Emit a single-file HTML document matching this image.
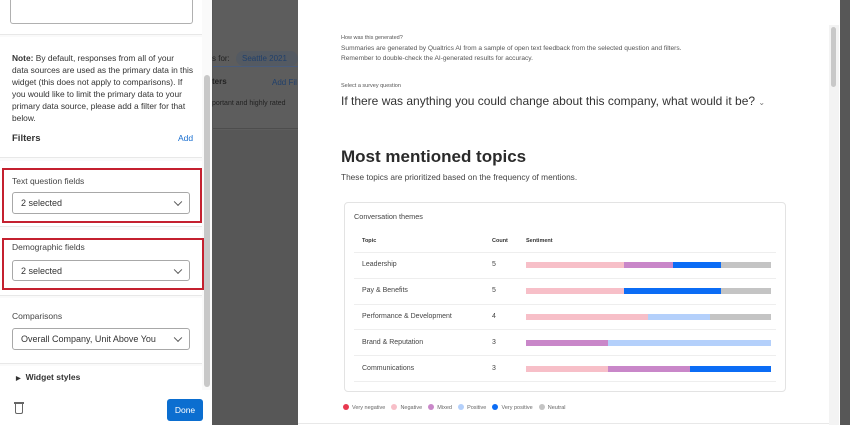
<!DOCTYPE html>
<html><head><meta charset="utf-8"><style>
*{margin:0;padding:0;box-sizing:border-box}
body{width:850px;height:425px;overflow:hidden;position:relative;background:#575757;font-family:"Liberation Sans",sans-serif;color:#333}
.a{position:absolute;white-space:nowrap}
.sel{position:absolute;background:#fff;border:1px solid #a8a8a8;border-radius:3px;font-size:9px;color:#333;padding-left:8px;display:flex;align-items:center}
.sel:after{content:"";position:absolute;right:8px;top:50%;width:5px;height:5px;border-right:1px solid #555;border-bottom:1px solid #555;transform:translateY(-70%) rotate(45deg)}
.red{position:absolute;border:2px solid #c4202f}
.bar{position:absolute;height:6px}
.dot{display:inline-block;width:6px;height:6px;border-radius:50%;margin-right:3px;vertical-align:-1px}
</style></head><body>
<div class="a" style="left:213px;top:0;width:85px;height:130px;background:#5d5d5d"></div>
<div class="a" style="left:213px;top:66px;width:85px;height:1px;background:#4a5c7a"></div>
<div class="a" style="left:213px;top:128px;width:85px;height:1px;background:#4d4d4d"></div>
<div class="a" style="left:212px;top:54px;font-size:8px;color:#222">s for:</div>
<div class="a" style="left:236px;top:51px;width:62px;height:15px;background:#545a62;border-radius:8px"></div>
<div class="a" style="left:242px;top:54px;font-size:8px;color:#21406b">Seattle 2021</div>
<div class="a" style="left:212px;top:77px;font-size:8px;font-weight:bold;color:#222">ters</div>
<div class="a" style="left:272px;top:78px;font-size:8px;color:#21406b">Add Fil</div>
<div class="a" style="left:212px;top:100px;font-size:7px;color:#222">portant and highly rated</div>
<div class="a" style="left:0;top:0;width:212px;height:425px;background:#fafafa"></div>
<div class="a" style="left:0;top:0;width:202px;height:35px;background:#fff;border-bottom:1px solid #e8e8e8"></div>
<div class="a" style="left:10px;top:0;width:183px;height:24px;border:1px solid #b0b0b0;border-top:none;border-radius:0 0 3px 3px;background:#fff"></div>
<div class="a" style="left:0;top:37px;width:202px;height:121px;background:#fff;border-bottom:1px solid #e8e8e8"></div>
<div class="a" style="left:12px;top:52px;font-size:8.4px;line-height:12px;color:#333"><b>Note:</b> By default, responses from all of your<br>data sources are used as the primary data in this<br>widget (this does not apply to comparisons). If<br>you would like to limit the primary data to your<br>primary data source, please add a filter for that<br>below.</div>
<div class="a" style="left:12px;top:133px;font-size:9.5px;font-weight:bold;color:#333">Filters</div>
<div class="a" style="left:178px;top:133px;font-size:8.5px;color:#1a6fd0">Add</div>
<div class="a" style="left:0;top:161px;width:202px;height:66px;background:#fff;border-bottom:1px solid #e8e8e8"></div>
<div class="red" style="left:2px;top:168px;width:200px;height:55px"></div>
<div class="a" style="left:12px;top:176px;font-size:8.5px;color:#444">Text question fields</div>
<div class="sel" style="left:12px;top:192px;width:178px;height:22px">2 selected</div>
<div class="a" style="left:0;top:230px;width:202px;height:66px;background:#fff;border-bottom:1px solid #e8e8e8"></div>
<div class="red" style="left:2px;top:238px;width:202px;height:52px"></div>
<div class="a" style="left:12px;top:242px;font-size:8.5px;color:#444">Demographic fields</div>
<div class="sel" style="left:12px;top:260px;width:178px;height:21px">2 selected</div>
<div class="a" style="left:0;top:298px;width:202px;height:66px;background:#fff;border-bottom:1px solid #e8e8e8"></div>
<div class="a" style="left:12px;top:311px;font-size:8.5px;color:#444">Comparisons</div>
<div class="sel" style="left:12px;top:328px;width:178px;height:22px">Overall Company, Unit Above You</div>
<div class="a" style="left:0;top:366px;width:202px;height:24px;background:#fff"></div>
<div class="a" style="left:16px;top:372px;font-size:8.5px;font-weight:bold;color:#333"><span style="font-size:6px;margin-right:5px">▶</span>Widget styles</div>
<div class="a" style="left:204px;top:75px;width:6px;height:312px;background:#c8c8c8;border-radius:3px"></div>
<div class="a" style="left:0;top:390px;width:212px;height:35px;background:#fff"></div>
<div class="a" style="left:15px;top:404px;width:8px;height:10px;border:1.5px solid #666;border-top:none;border-radius:0 0 2px 2px"></div>
<div class="a" style="left:14px;top:402px;width:10px;height:1.5px;background:#666"></div>
<div class="a" style="left:167px;top:399px;width:36px;height:22px;background:#0b6ed0;border-radius:3px;color:#fff;font-size:8.5px;line-height:22px;text-align:center">Done</div>
<div class="a" style="left:298px;top:0;width:542px;height:425px;background:#fff"></div>
<div class="a" style="left:829px;top:25px;width:10px;height:400px;background:#f3f3f3"></div>
<div class="a" style="left:831px;top:27px;width:5px;height:60px;background:#c8c8c8;border-radius:3px"></div>
<div class="a" style="left:341px;top:35px;font-size:5.5px;color:#555">How was this generated?</div>
<div class="a" style="left:341px;top:44px;font-size:6.6px;color:#555;line-height:10px">Summaries are generated by Qualtrics AI from a sample of open text feedback from the selected question and filters.<br>Remember to double-check the AI-generated results for accuracy.</div>
<div class="a" style="left:341px;top:83px;font-size:5.5px;color:#555">Select a survey question</div>
<div class="a" style="left:341px;top:94px;font-size:12px;color:#333">If there was anything you could change about this company, what would it be? <span style="font-size:8px;color:#777">⌄</span></div>
<div class="a" style="left:341px;top:147px;font-size:17px;font-weight:bold;color:#2a2a2a">Most mentioned topics</div>
<div class="a" style="left:341px;top:172px;font-size:8.3px;color:#444">These topics are prioritized based on the frequency of mentions.</div>
<div class="a" style="left:344px;top:202px;width:442px;height:190px;border:1px solid #e3e3e3;border-radius:4px"></div>
<div class="a" style="left:354px;top:212px;font-size:7.3px;color:#444">Conversation themes</div>
<div class="a" style="left:362px;top:238px;font-size:5.5px;font-weight:bold;color:#333">Topic</div>
<div class="a" style="left:492px;top:238px;font-size:5.5px;font-weight:bold;color:#333">Count</div>
<div class="a" style="left:526px;top:238px;font-size:5.5px;font-weight:bold;color:#333">Sentiment</div>
<div class="a" style="left:354px;top:252px;width:422px;height:1px;background:#eee"></div>
<div class="a" style="left:354px;top:278px;width:422px;height:1px;background:#eee"></div>
<div class="a" style="left:354px;top:304px;width:422px;height:1px;background:#eee"></div>
<div class="a" style="left:354px;top:329px;width:422px;height:1px;background:#eee"></div>
<div class="a" style="left:354px;top:355px;width:422px;height:1px;background:#eee"></div>
<div class="a" style="left:354px;top:381px;width:422px;height:1px;background:#eee"></div>
<div class="a" style="left:362px;top:261px;font-size:7px;color:#444">Leadership</div>
<div class="a" style="left:362px;top:287px;font-size:7px;color:#444">Pay &amp; Benefits</div>
<div class="a" style="left:362px;top:313px;font-size:7px;color:#444">Performance &amp; Development</div>
<div class="a" style="left:362px;top:339px;font-size:7px;color:#444">Brand &amp; Reputation</div>
<div class="a" style="left:362px;top:365px;font-size:7px;color:#444">Communications</div>
<div class="a" style="left:492px;top:261px;font-size:7px;color:#444">5</div>
<div class="a" style="left:492px;top:287px;font-size:7px;color:#444">5</div>
<div class="a" style="left:492px;top:313px;font-size:7px;color:#444">4</div>
<div class="a" style="left:492px;top:339px;font-size:7px;color:#444">3</div>
<div class="a" style="left:492px;top:365px;font-size:7px;color:#444">3</div>
<div class="bar" style="left:526px;top:262px;width:98px;background:#f7bfc8"></div>
<div class="bar" style="left:624px;top:262px;width:49px;background:#c987c9"></div>
<div class="bar" style="left:673px;top:262px;width:48px;background:#0b6cf5"></div>
<div class="bar" style="left:721px;top:262px;width:50px;background:#c4c4c4"></div>
<div class="bar" style="left:526px;top:288px;width:98px;background:#f7bfc8"></div>
<div class="bar" style="left:624px;top:288px;width:97px;background:#0b6cf5"></div>
<div class="bar" style="left:721px;top:288px;width:50px;background:#c4c4c4"></div>
<div class="bar" style="left:526px;top:314px;width:122px;background:#f7bfc8"></div>
<div class="bar" style="left:648px;top:314px;width:62px;background:#b4d0fb"></div>
<div class="bar" style="left:710px;top:314px;width:61px;background:#c4c4c4"></div>
<div class="bar" style="left:526px;top:340px;width:82px;background:#c987c9"></div>
<div class="bar" style="left:608px;top:340px;width:163px;background:#b4d0fb"></div>
<div class="bar" style="left:526px;top:366px;width:82px;background:#f7bfc8"></div>
<div class="bar" style="left:608px;top:366px;width:82px;background:#c987c9"></div>
<div class="bar" style="left:690px;top:366px;width:81px;background:#0b6cf5"></div>
<div class="a" style="left:343px;top:404px;font-size:5.5px;color:#666">
<span class="dot" style="background:#e8384f"></span>Very negative&nbsp;&nbsp;&nbsp;
<span class="dot" style="background:#f7bfc8"></span>Negative&nbsp;&nbsp;&nbsp;
<span class="dot" style="background:#c987c9"></span>Mixed&nbsp;&nbsp;&nbsp;
<span class="dot" style="background:#b4d0fb"></span>Positive&nbsp;&nbsp;&nbsp;
<span class="dot" style="background:#0b6cf5"></span>Very positive&nbsp;&nbsp;&nbsp;
<span class="dot" style="background:#c4c4c4"></span>Neutral</div>
<div class="a" style="left:298px;top:423px;width:531px;height:1px;background:#e8e8e8"></div>
</body></html>
